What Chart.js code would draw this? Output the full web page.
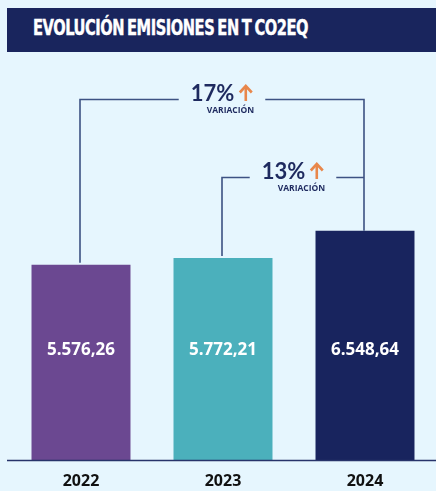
<!DOCTYPE html>
<html lang="es">
<head>
<meta charset="utf-8">
<title>Evolución emisiones en t CO2eq</title>
<script src="https://cdn.jsdelivr.net/npm/chart.js@4/dist/chart.umd.min.js"></script>
<style>
  html, body { margin: 0; padding: 0; background: #E6F6FE; }
  #wrap { position: relative; width: 436px; height: 491px; overflow: hidden; }
  #banner {
    position: absolute; left: 7px; top: 8px; width: 429px; height: 44px;
    background: #19255D;
  }
  #banner span {
    position: absolute; left: 26px; top: 9px;
    font-family: "Liberation Sans Narrow", "DejaVu Sans Condensed", sans-serif;
    font-weight: bold; font-size: 21px; line-height: 22px; color: #FFFFFF;
    -webkit-text-stroke: 0.4px #FFFFFF;
    white-space: nowrap; transform-origin: 0 50%;
    letter-spacing: -0.6px; word-spacing: -2px;
  }
  canvas { position: absolute; left: 0; top: 0; }
</style>
</head>
<body>
<div id="wrap">
  <canvas id="chart" width="436" height="491"></canvas>
  <div id="banner"><span id="title">EVOLUCIÓN EMISIONES EN T CO2EQ</span></div>
</div>
<script>
// Emissions per year, in tonnes of CO2 equivalent
const years = ['2022', '2023', '2024'];
const emissions = [5576.26, 5772.21, 6548.64];
const barColors = ['#6B4891', '#4BB0BC', '#18245E'];

// Year-over-year comparisons shown as brackets (index pairs into the series)
const variationFrom = [0, 1];
const variationTo = [2, 2];
const variationLabel = 'VARIACIÓN';

// Squeeze the condensed heading to its column width
(function fitTitle() {
  const el = document.getElementById('title');
  const w = el.getBoundingClientRect().width;
  el.style.transform = 'scaleX(' + (275 / w) + ')';
})();

function formatEs(v) {
  const [int, dec] = v.toFixed(2).split('.');
  return int.replace(/\B(?=(\d{3})+(?!\d))/g, '.') + ',' + dec;
}

const NAVY = '#1E2A5F';
const LINE = '#3D5283';
const ORANGE = '#E8874B';

const overlay = {
  id: 'overlay',
  afterDatasetsDraw(chart) {
    const ctx = chart.ctx;
    const bars = chart.getDatasetMeta(0).data;
    const yScale = chart.scales.y;
    const base = yScale.getPixelForValue(0);

    // baseline
    ctx.save();
    ctx.strokeStyle = '#27336A';
    ctx.lineWidth = 1.5;
    ctx.beginPath();
    ctx.moveTo(7, base + 0.5);
    ctx.lineTo(436, base + 0.5);
    ctx.stroke();

    // values inside the bars
    ctx.fillStyle = '#FFFFFF';
    ctx.font = 'bold 17px "Open Sans", sans-serif';
    ctx.textAlign = 'center';
    ctx.textBaseline = 'middle';
    bars.forEach((b, i) => {
      ctx.fillText(formatEs(emissions[i]), b.x, base - 110);
    });

    // variation brackets
    const levels = [99, 177];
    ctx.strokeStyle = LINE;
    ctx.lineWidth = 1.6;
    variationFrom.forEach((from, k) => {
      const to = variationTo[k];
      const a = bars[from], c = bars[to];
      const y = levels[k] + 0.5;
      const pct = Math.round((emissions[to] / emissions[from] - 1) * 100) + '%';

      ctx.font = 'normal bold 22px Lato, sans-serif';
      const pw = ctx.measureText(pct).width;
      const arrowW = 15, gapA = 4;
      const groupW = pw + gapA + arrowW;
      const mid = (a.x + c.x) / 2 - 1;
      const gx0 = mid - groupW / 2;
      const gx1 = mid + groupW / 2;

      ctx.beginPath();
      ctx.moveTo(a.x - 1, a.y - 2);
      ctx.lineTo(a.x - 1, y);
      ctx.lineTo(gx0 - 12, y);
      ctx.moveTo(gx1 + 12, y);
      ctx.lineTo(c.x - 1, y);
      if (k === 0) ctx.lineTo(c.x - 1, c.y);
      ctx.stroke();

      // percentage
      ctx.fillStyle = NAVY;
      ctx.textAlign = 'left';
      ctx.textBaseline = 'alphabetic';
      ctx.fillText(pct, gx0, y + 1.5);

      // arrow
      const ax = gx0 + pw + gapA + arrowW / 2;
      ctx.save();
      ctx.strokeStyle = ORANGE;
      ctx.lineWidth = 2.6;
      ctx.lineCap = 'butt';
      ctx.beginPath();
      ctx.moveTo(ax, y + 1.5);
      ctx.lineTo(ax, y - 13);
      ctx.stroke();
      ctx.beginPath();
      ctx.moveTo(ax - 6, y - 7);
      ctx.lineTo(ax, y - 13.5);
      ctx.lineTo(ax + 6, y - 7);
      ctx.stroke();
      ctx.restore();

      // caption
      ctx.font = 'bold 8.5px "Open Sans", sans-serif';
      ctx.textAlign = 'right';
      ctx.textBaseline = 'middle';
      ctx.fillStyle = NAVY;
      ctx.fillText(variationLabel, gx1 + 1, y + 11.5);
    });
    ctx.restore();
  }
};

new Chart(document.getElementById('chart'), {
  type: 'bar',
  data: {
    labels: years,
    datasets: [{
      data: emissions,
      backgroundColor: barColors,
      borderWidth: 0,
      barPercentage: 1,
      categoryPercentage: 0.697
    }]
  },
  options: {
    responsive: false,
    animation: false,
    devicePixelRatio: 1,
    layout: { padding: { top: 40, left: 10, right: 0, bottom: 0 } },
    plugins: { legend: { display: false }, tooltip: { enabled: false }, title: { display: false } },
    scales: {
      x: {
        grid: { display: false, drawTicks: false },
        border: { display: false },
        afterFit(scale) { scale.height = 31; },
        ticks: {
          color: '#111111',
          padding: 12,
          font: { family: '"Open Sans", sans-serif', weight: 'bold', size: 16 }
        }
      },
      y: {
        display: false,
        min: 0,
        max: 12000
      }
    }
  },
  plugins: [overlay]
});
</script>
</body>
</html>
